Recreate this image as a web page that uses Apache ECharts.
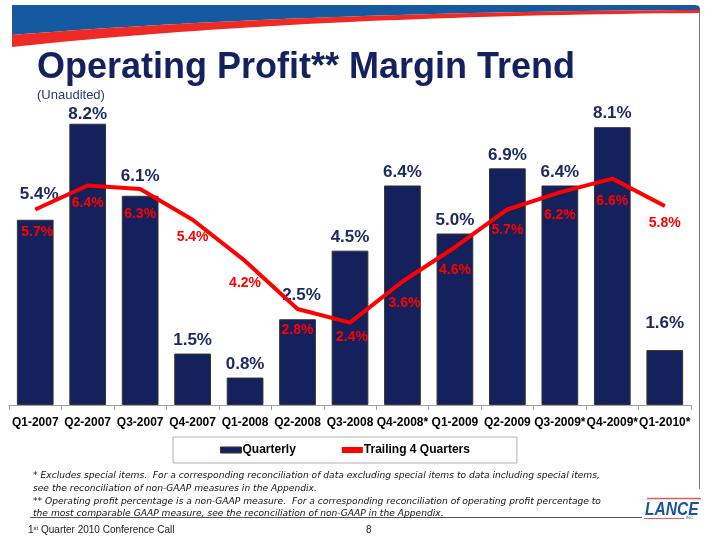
<!DOCTYPE html>
<html>
<head>
<meta charset="utf-8">
<script src="https://cdn.jsdelivr.net/npm/echarts@6/dist/echarts.min.js"></script>
<style>
html,body{margin:0;padding:0;background:#fff;}
#chart{width:720px;height:539px;}
</style>
</head>
<body>
<div id="chart"></div>
<script>
// ---- data ----
const categories = ['Q1-2007','Q2-2007','Q3-2007','Q4-2007','Q1-2008','Q2-2008','Q3-2008','Q4-2008*','Q1-2009','Q2-2009','Q3-2009*','Q4-2009*','Q1-2010*'];
const quarterly = [5.4, 8.2, 6.1, 1.5, 0.8, 2.5, 4.5, 6.4, 5.0, 6.9, 6.4, 8.1, 1.6];
const trailing4 = [5.7, 6.4, 6.3, 5.4, 4.2, 2.8, 2.4, 3.6, 4.6, 5.7, 6.2, 6.6, 5.8];
const seriesNames = ['Quarterly', 'Trailing 4 Quarters'];
const titleText = 'Operating Profit** Margin Trend';
const subtitleText = '(Unaudited)';
const footnotes = [
  '* Excludes special items.  For a corresponding reconciliation of data excluding special items to data including special items,',
  'see the reconciliation of non-GAAP measures in the Appendix.',
  '** Operating profit percentage is a non-GAAP measure.  For a corresponding reconciliation of operating profit percentage to',
  'the most comparable GAAP measure, see the reconciliation of non-GAAP in the Appendix.'
];

// label nudges (style only)
const barLabelShift = [[4,-12],[0,4],[0,-6],[0,0],[0,0],[4,-10],[0,0],[0,0],[0,0],[0,0],[0,0],[0,0],[0,-13]];
const lineLabelShift = [[2,10],[0,5],[0,13],[0,5],[0,10],[0,9],[2,2],[2,9],[0,10],[0,8],[0,10],[0,10],[0,5]];

const NAVY = '#14215c';
const RED = '#ff0000';
const FONT = 'Liberation Sans, Arial, sans-serif';
const NOTEFONT = 'DejaVu Sans, Verdana, sans-serif';

function curvePts(p0, c, p1, n) {
  const pts = [];
  for (let i = 0; i <= n; i++) {
    const t = i / n, u = 1 - t;
    pts.push([u*u*p0[0] + 2*u*t*c[0] + t*t*p1[0], u*u*p0[1] + 2*u*t*c[1] + t*t*p1[1]]);
  }
  return pts;
}
const blueEdge = curvePts([12,35],[300,12],[700,10],40);
const redEdge = curvePts([12,47],[300,16],[700,13],40);
const bluePoly = [[12,5],[695,5],[699,6],[700,9]].concat(blueEdge.slice().reverse());
const redPoly = blueEdge.concat(redEdge.slice().reverse());

const chart = echarts.init(document.getElementById('chart'), null, {renderer:'canvas'});
const option = {
  backgroundColor: '#ffffff',
  animation: false,
  grid: {left: 9, right: 29, top: 62, bottom: 134, containLabel: false},
  legend: {
    left: 173, top: 437,
    itemGap: 46, itemWidth: 21, itemHeight: 6,
    borderColor: '#b0b0b0', borderWidth: 1,
    padding: [7, 47, 7, 47],
    textStyle: {fontFamily: FONT, fontWeight: 'bold', fontSize: 12, color: '#000', padding: [0,0,0,-4]},
    data: [
      {name: seriesNames[0], icon: 'rect', itemStyle: {color: NAVY, borderColor: '#333', borderWidth: 1}},
      {name: seriesNames[1], icon: 'rect', itemStyle: {color: RED, borderWidth: 0}}
    ]
  },
  xAxis: {
    type: 'category',
    data: categories,
    axisLine: {lineStyle: {color: '#a0a0a0', width: 1}},
    axisTick: {show: true, length: 5, lineStyle: {color: '#a0a0a0'}},
    axisLabel: {fontFamily: FONT, fontWeight: 'bold', fontSize: 12, color: '#000', margin: 12, interval: 0}
  },
  yAxis: {type: 'value', min: 0, max: 10, show: false, splitLine: {show: false}},
  series: [
    {
      name: seriesNames[0],
      type: 'bar',
      barCategoryGap: '30%',
      itemStyle: {color: NAVY, borderColor: '#333', borderWidth: 1},
      label: {
        show: true, position: 'top', distance: 5,
        formatter: p => p.value.toFixed(1) + '%',
        fontFamily: FONT, fontWeight: 'bold', fontSize: 17, color: '#1b2a63'
      },
      data: quarterly.map((v, i) => ({value: v, label: {offset: barLabelShift[i]}})),
      z: 2
    },
    {
      name: seriesNames[1],
      type: 'line',
      symbol: 'circle',
      symbolSize: 1,
      showSymbol: true,
      lineStyle: {color: RED, width: 4, join: 'round'},
      itemStyle: {color: RED},
      label: {
        show: true, position: 'bottom', distance: 5,
        formatter: p => p.value.toFixed(1) + '%',
        fontFamily: FONT, fontWeight: 'bold', fontSize: 14, color: RED
      },
      data: trailing4.map((v, i) => ({value: v, label: {offset: lineLabelShift[i]}})),
      z: 3
    }
  ],
  graphic: [
    {type: 'polygon', shape: {points: bluePoly}, style: {fill: '#155aa0'}, silent: true},
    {type: 'polygon', shape: {points: redPoly}, style: {fill: '#ee2a24'}, silent: true},
    {type: 'line', shape: {x1: 699.5, y1: 12, x2: 699.5, y2: 489}, style: {stroke: '#7a7a7a', lineWidth: 1}, silent: true},
    {type: 'line', shape: {x1: 30, y1: 517.5, x2: 642, y2: 517.5}, style: {stroke: '#555', lineWidth: 1}, silent: true},
    {type: 'text', left: 37, top: 50, style: {text: titleText, fontFamily: FONT, fontWeight: 'bold', fontSize: 36, fill: '#14215f'}},
    {type: 'text', left: 37, top: 89, style: {text: subtitleText, fontFamily: FONT, fontSize: 13, fill: '#2a3a70'}},
    {type: 'text', left: 33, top: 471, style: {text: footnotes[0], fontFamily: NOTEFONT, fontStyle: 'italic', fontSize: 9.15, fill: '#111'}},
    {type: 'text', left: 33, top: 484, style: {text: footnotes[1], fontFamily: NOTEFONT, fontStyle: 'italic', fontSize: 9.15, fill: '#111'}},
    {type: 'text', left: 33, top: 497, style: {text: footnotes[2], fontFamily: NOTEFONT, fontStyle: 'italic', fontSize: 9.15, fill: '#111'}},
    {type: 'text', left: 33, top: 509, style: {text: footnotes[3], fontFamily: NOTEFONT, fontStyle: 'italic', fontSize: 9.15, fill: '#111'}},
    {type: 'text', left: 28, top: 525, style: {
      text: '{n|1}{s|st}{n| Quarter 2010 Conference Call}',
      rich: {n: {fontFamily: FONT, fontSize: 10, fill: '#222'}, s: {fontFamily: FONT, fontSize: 6, fill: '#222', verticalAlign: 'top'}}
    }},
    {type: 'text', left: 366, top: 525, style: {text: '8', fontFamily: FONT, fontSize: 10, fill: '#222'}},
    // logo
    {type: 'line', shape: {x1: 647, y1: 498.5, x2: 701, y2: 498.5}, style: {stroke: '#e85a5a', lineWidth: 1.5}, silent: true},
    {type: 'text', left: 645, top: 500, scaleX: 0.82, style: {text: 'LANCE', fontFamily: FONT, fontWeight: 'bold', fontStyle: 'italic', fontSize: 19, fill: '#1a56a0'}},
    {type: 'line', shape: {x1: 644, y1: 518.5, x2: 684, y2: 518.5}, style: {stroke: '#e85a5a', lineWidth: 1.2}, silent: true},
    {type: 'text', left: 686, top: 516, style: {text: 'INC.', fontFamily: FONT, fontSize: 4, fill: '#1a56a0'}}
  ]
};
chart.setOption(option);
</script>
</body>
</html>
